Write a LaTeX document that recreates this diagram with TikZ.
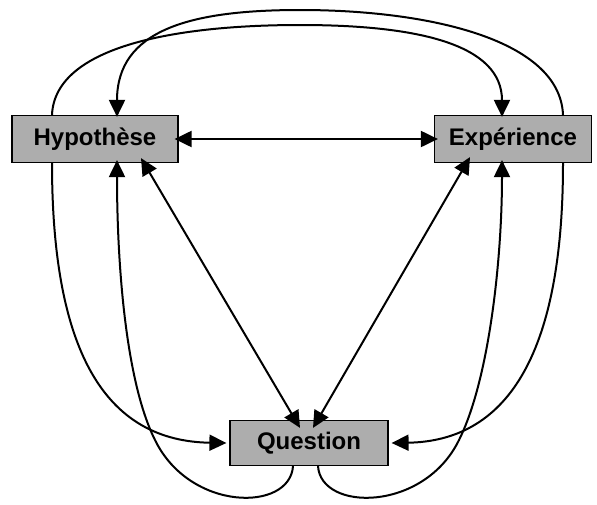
\documentclass[tikz,border=0pt]{standalone}
\usepackage{fontspec}
\setmainfont{Liberation Sans}
\usepackage{tikz}
\usetikzlibrary{arrows.meta}

\begin{document}
\begin{tikzpicture}[x=1pt,y=-1pt,
  box/.style={draw=black, line width=1.2pt, fill=black!32, inner sep=0pt, minimum height=47pt, font=\fontsize{24}{28}\selectfont\bfseries},
  link/.style={line width=2pt, -{Triangle[length=17pt,width=16pt]}},
  both/.style={line width=2pt, {Triangle[length=17pt,width=16pt]}-{Triangle[length=17pt,width=16pt]}}]
\useasboundingbox (0,0) rectangle (597,504);
\node[box, minimum width=166pt] (Hyp) at (95,139) {Hypothèse};
\node[box, minimum width=157pt] (Exp) at (513,139) {Expérience};
\node[box, minimum width=158pt, minimum height=45pt] (Que) at (309,443) {Question};
\draw[both] ([xshift=-4pt]Hyp.east) -- ([xshift=4pt]Exp.west);
\draw[both] ([xshift=46pt,yshift=5pt]Hyp.south) -- ([xshift=-9pt,yshift=-8pt]Que.north);
\draw[both] ([xshift=-43pt,yshift=6pt]Exp.south) -- ([xshift=4pt,yshift=-8pt]Que.north);
\draw[link] ([xshift=-43pt]Hyp.north) .. controls (55,45) and (180,25) .. (300,25) .. controls (420,25) and (502,45) .. ([xshift=-11pt,yshift=-2pt]Exp.north);
\draw[link] ([xshift=50pt]Exp.north) .. controls (560,40) and (430,10) .. (300,10) .. controls (190,10) and (117,30) .. ([xshift=22pt,yshift=-2pt]Hyp.north);
\draw[link] ([xshift=-43pt]Hyp.south) .. controls (52,360) and (110,441) .. ([xshift=-3pt]Que.west);
\draw[link] ([xshift=50pt]Exp.south) .. controls (563,360) and (504,441) .. ([xshift=3pt]Que.east);
\draw[link] ([xshift=-16pt]Que.south) .. controls (290,512) and (190,512) .. (155,440) .. controls (125,380) and (117,260) .. ([xshift=22pt,yshift=3pt]Hyp.south);
\draw[link] ([xshift=9pt]Que.south) .. controls (321,512) and (424,512) .. (459,440) .. controls (489,380) and (502,260) .. ([xshift=-11pt,yshift=3pt]Exp.south);
\end{tikzpicture}
\end{document}
